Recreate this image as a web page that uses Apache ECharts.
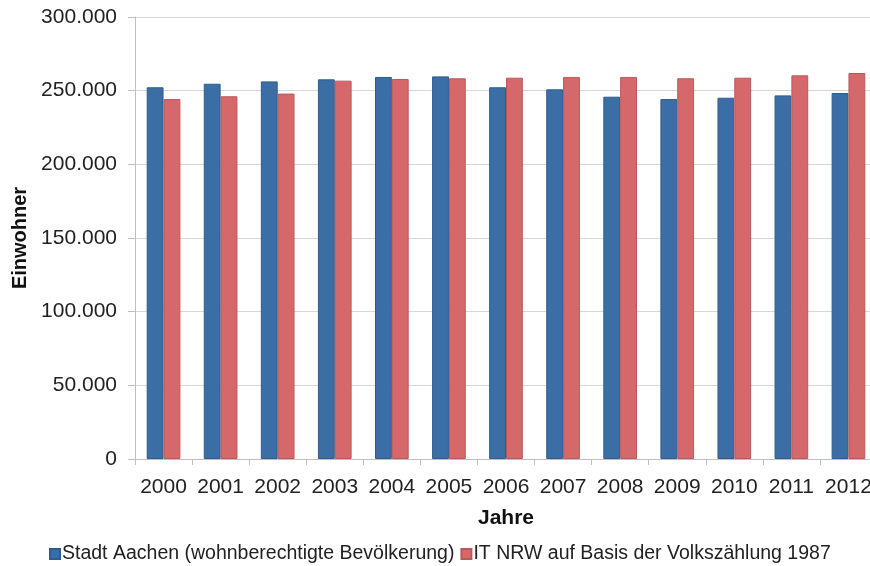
<!DOCTYPE html>
<html>
<head>
<meta charset="utf-8">
<script src="https://cdn.jsdelivr.net/npm/echarts@6/dist/echarts.min.js"></script>
<style>html,body{margin:0;padding:0;background:#fff;overflow:hidden;width:870px;height:566px}#c{width:880px;height:566px}</style>
</head>
<body>
<div id="c"></div>
<script>
var years = ['2000','2001','2002','2003','2004','2005','2006','2007','2008','2009','2010','2011','2012'];
var stadtAachen = [252300, 254700, 256300, 257700, 259300, 259700, 252300, 250900, 245900, 244300, 245200, 246800, 248400];
var itNrw = [244300, 246200, 248000, 256800, 257900, 258400, 258800, 259300, 259300, 258400, 258800, 260400, 262000];
var seriesNames = ['Stadt Aachen (wohnberechtigte Bevölkerung)', 'IT NRW auf Basis der Volkszählung 1987'];
var yTicks = [0, 50000, 100000, 150000, 200000, 250000, 300000];

var font = 'Liberation Sans, Arial, sans-serif';
var chart = echarts.init(document.getElementById('c'), null, {renderer: 'canvas'});
function fmt(v){ return String(v).replace(/\B(?=(\d{3})+(?!\d))/g, '.'); }
chart.setOption({
  animation: false,
  backgroundColor: '#ffffff',
  grid: {left: 135, width: 742, top: 17, height: 442, containLabel: false},
  legend: {
    left: 49, top: 544, padding: 0, itemGap: 6, itemWidth: 10, itemHeight: 10, icon: 'rect',
    textStyle: {fontFamily: font, fontSize: 19.5, color: '#222', padding: [0,0,0,-3]},
    data: seriesNames
  },
  xAxis: {
    type: 'category', data: years,
    name: 'Jahre', nameLocation: 'middle', nameGap: 49,
    nameTextStyle: {fontFamily: font, fontSize: 21, fontWeight: 'bold', color: '#111', padding: [0, 0, 0, 0]},
    axisLine: {lineStyle: {color: '#bfbfbf', width: 1}},
    axisTick: {show: true, length: 6, lineStyle: {color: '#bfbfbf'}},
    axisLabel: {fontFamily: font, fontSize: 21, color: '#222', margin: 18, interval: 0}
  },
  yAxis: {
    type: 'value', min: 0, max: 300000, interval: 50000,
    name: 'Einwohner', nameLocation: 'middle', nameGap: 104, nameRotate: 90,
    nameTextStyle: {fontFamily: font, fontSize: 20, fontWeight: 'bold', color: '#111'},
    axisLine: {show: true, lineStyle: {color: '#bfbfbf', width: 1}},
    axisTick: {show: true, length: 7, lineStyle: {color: '#bfbfbf'}},
    splitLine: {show: true, lineStyle: {color: '#d6d6d6', width: 1}},
    axisLabel: {fontFamily: font, fontSize: 21, color: '#222', margin: 18,
      formatter: function(v){ return fmt(v); }}
  },
  series: [
    {name: seriesNames[0], type: 'bar', data: stadtAachen, barGap: '0%', barCategoryGap: '41%',
     itemStyle: {color: '#3b6ea5', borderColor: '#2f5c8c', borderWidth: 1}},
    {name: seriesNames[1], type: 'bar', data: itNrw,
     itemStyle: {color: '#d5686b', borderColor: '#b9585a', borderWidth: 1}}
  ]
});
</script>
</body>
</html>
